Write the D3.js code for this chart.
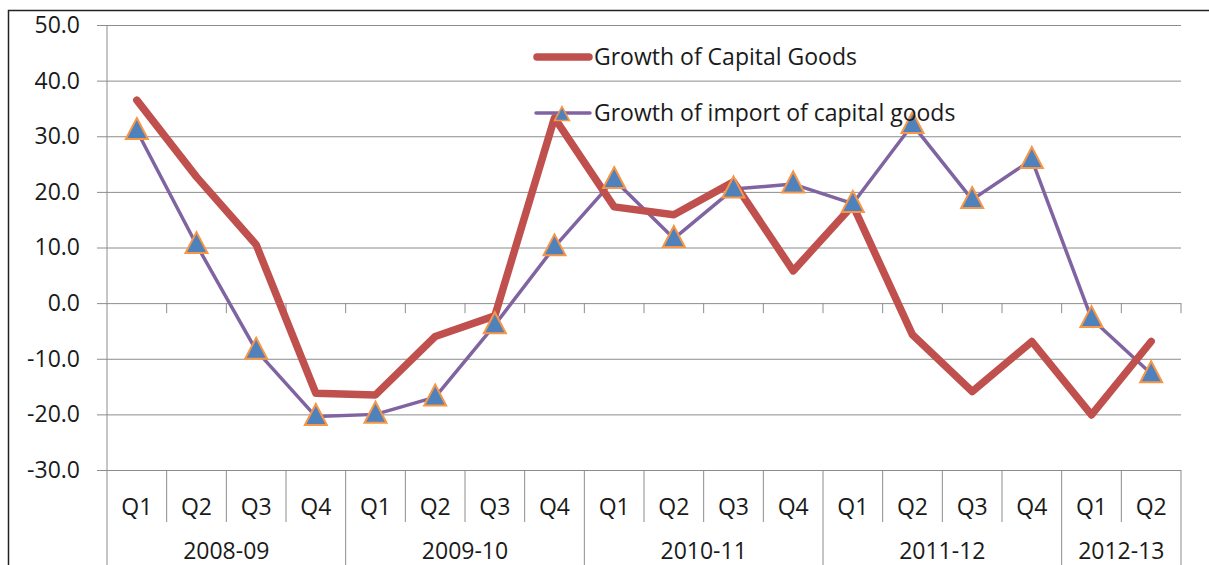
<!DOCTYPE html>
<html>
<head>
<meta charset="utf-8">
<script src="https://cdn.jsdelivr.net/npm/d3@7"></script>
<style>
  html, body { margin: 0; padding: 0; background: #fff; }
  svg { display: block; }
  text { font-family: "Open Sans", "Liberation Sans", sans-serif; fill: #1a1a1a; }
</style>
</head>
<body>
<svg id="chart" width="1209" height="565"></svg>
<script>
// ---- Data ----
const quarterLabels = ["Q1","Q2","Q3","Q4","Q1","Q2","Q3","Q4","Q1","Q2","Q3","Q4","Q1","Q2","Q3","Q4","Q1","Q2"];
const yearLabels = ["2008-09","2009-10","2010-11","2011-12","2012-13"];
const yearQuarterCounts = [4, 4, 4, 4, 2];
const capitalGoods = [36.5, 22.7, 10.5, -16.2, -16.5, -6.0, -2.3, 33.3, 17.3, 15.9, 21.8, 5.8, 17.6, -5.7, -15.9, -6.9, -20.1, -6.9];
const importCapitalGoods = [31.0, 10.5, -8.5, -20.4, -20.0, -16.9, -3.9, 10.1, 22.2, 11.6, 20.5, 21.4, 17.9, 32.1, 18.6, 25.8, -2.8, -12.7];
const yTicks = [-30, -20, -10, 0, 10, 20, 30, 40, 50];
const seriesNames = ["Growth of Capital Goods", "Growth of import of capital goods"];

// ---- Layout ----
const svg = d3.select("#chart");
const mLeft = 107, mRight = 1181, mTop = 25, mBottom = 470;
const fontSize = 23;
const gridColor = "#8c8c8c";
const redColor = "#C0504D", purpleColor = "#8064A2";
const markerFill = "#4F81BD", markerStroke = "#F79646";

const x = d3.scaleBand().domain(d3.range(quarterLabels.length)).range([mLeft, mRight]).padding(0);
const y = d3.scaleLinear().domain([-30, 50]).range([mBottom, mTop]);

// outer border (chart area frame)
svg.append("path")
  .attr("d", `M8.5,565 L8.5,10.5 L1209,10.5`)
  .attr("fill", "none").attr("stroke", "#222").attr("stroke-width", 1.5);

// horizontal gridlines (extend left as tick marks)
const fmt = v => d3.format(".1f")(v).replace("\u2212", "-");
const yAxis = d3.axisLeft(y).tickValues(yTicks).tickFormat(fmt)
  .tickSize(-(mRight - mLeft)).tickPadding(27);
const gy = svg.append("g").attr("transform", `translate(${mLeft},0)`).call(yAxis);
gy.select(".domain").remove();
gy.selectAll(".tick line").attr("stroke", gridColor).attr("x1", -10).attr("stroke-width", 1);
gy.selectAll(".tick text").attr("font-size", fontSize).attr("fill", "#1a1a1a")
  .style("font-family", "'Open Sans', sans-serif");

// vertical axis line (extends down through category area)
svg.append("line").attr("x1", mLeft).attr("x2", mLeft).attr("y1", mTop).attr("y2", 565)
  .attr("stroke", gridColor).attr("stroke-width", 1);

// category tick marks on the zero line
const boundaries = d3.range(1, quarterLabels.length + 1).map(i => mLeft + i * x.bandwidth());
svg.append("g").selectAll("line").data(boundaries).join("line")
  .attr("x1", d => d).attr("x2", d => d)
  .attr("y1", y(0)).attr("y2", y(0) + 10)
  .attr("stroke", gridColor).attr("stroke-width", 1);

// category separators in the bottom label area
const yearEnds = [];
let acc = 0;
yearQuarterCounts.forEach(c => { acc += c; yearEnds.push(acc); });
svg.append("g").selectAll("line").data(d3.range(1, quarterLabels.length + 1)).join("line")
  .attr("x1", i => mLeft + i * x.bandwidth()).attr("x2", i => mLeft + i * x.bandwidth())
  .attr("y1", mBottom)
  .attr("y2", i => yearEnds.includes(i) ? 565 : 522)
  .attr("stroke", gridColor).attr("stroke-width", 1);

// quarter labels
svg.append("g").selectAll("text").data(quarterLabels).join("text")
  .attr("x", (d, i) => x(i) + x.bandwidth() / 2)
  .attr("y", 507).attr("dy", "0.35em")
  .attr("text-anchor", "middle").attr("font-size", fontSize)
  .text(d => d);

// year labels
let start = 0;
const yearPos = yearQuarterCounts.map(c => { const s = start; start += c; return (mLeft + s * x.bandwidth() + mLeft + start * x.bandwidth()) / 2; });
svg.append("g").selectAll("text").data(yearLabels).join("text")
  .attr("x", (d, i) => yearPos[i])
  .attr("y", 551).attr("dy", "0.35em")
  .attr("text-anchor", "middle").attr("font-size", fontSize)
  .text(d => d);

// ---- Series ----
const line = d3.line().x((d, i) => x(i) + x.bandwidth() / 2).y(d => y(d));

svg.append("path").datum(importCapitalGoods).attr("d", line)
  .attr("fill", "none").attr("stroke", purpleColor).attr("stroke-width", 3.5)
  .attr("stroke-linejoin", "round");

svg.append("path").datum(capitalGoods).attr("d", line)
  .attr("fill", "none").attr("stroke", redColor).attr("stroke-width", 7.5)
  .attr("stroke-linejoin", "round").attr("stroke-linecap", "round");

function triPath(w, h) {
  return `M0,${-h * 0.6} L${w / 2},${h * 0.4} L${-w / 2},${h * 0.4} Z`;
}

svg.append("g").selectAll("path").data(importCapitalGoods).join("path")
  .attr("transform", (d, i) => `translate(${x(i) + x.bandwidth() / 2},${y(d)})`)
  .attr("d", triPath(22, 21))
  .attr("fill", markerFill).attr("stroke", markerStroke).attr("stroke-width", 2)
  .attr("stroke-linejoin", "miter");

// ---- Legend ----
const lg = svg.append("g");
lg.append("line").attr("x1", 537).attr("x2", 589).attr("y1", 57).attr("y2", 57)
  .attr("stroke", redColor).attr("stroke-width", 7.5).attr("stroke-linecap", "round");
lg.append("text").attr("x", 594).attr("y", 57).attr("dy", "0.35em").attr("font-size", fontSize).text(seriesNames[0]);

lg.append("line").attr("x1", 536).attr("x2", 590).attr("y1", 113).attr("y2", 113)
  .attr("stroke", purpleColor).attr("stroke-width", 3.5).attr("stroke-linecap", "round");
lg.append("path").attr("transform", "translate(562,115)").attr("d", triPath(15, 14))
  .attr("fill", markerFill).attr("stroke", markerStroke).attr("stroke-width", 1.5);
lg.append("text").attr("x", 594).attr("y", 113).attr("dy", "0.35em").attr("font-size", fontSize).text(seriesNames[1]);
</script>
</body>
</html>
